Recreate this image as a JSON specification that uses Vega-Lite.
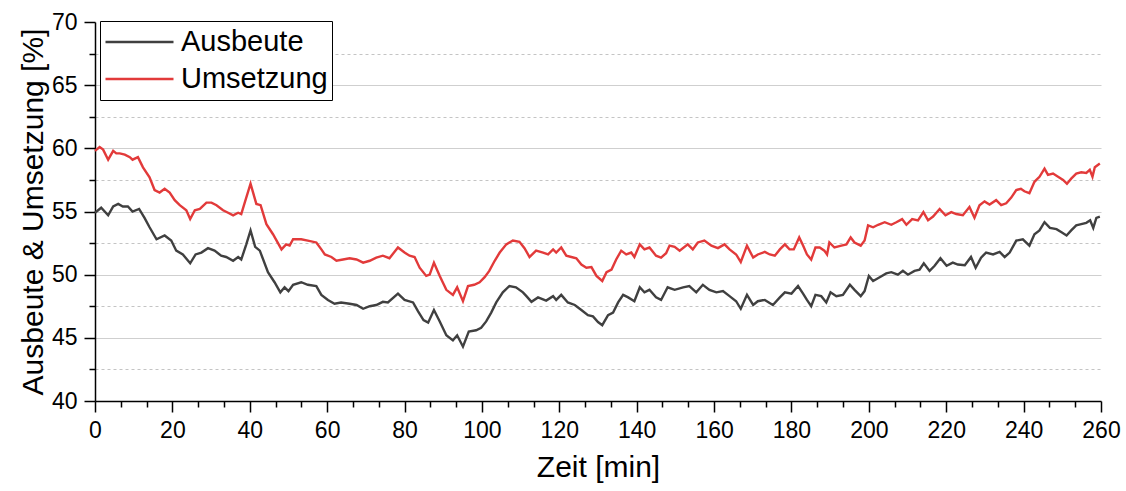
{
  "$schema": "https://vega.github.io/schema/vega-lite/v6.json",
  "width": 1006,
  "height": 379,
  "autosize": {"type": "none"},
  "padding": {"left": 95, "top": 22, "right": 25, "bottom": 90},
  "background": "white",
  "config": {
    "font": "Liberation Sans",
    "view": {"stroke": null},
    "axis": {
      "labelFont": "Liberation Sans",
      "titleFont": "Liberation Sans",
      "labelColor": "black",
      "titleColor": "black",
      "tickColor": "black",
      "domainColor": "black",
      "titleFontWeight": "normal"
    }
  },
  "data": {
    "values": [
      {"t":0,"v":54.9,"s":"Ausbeute"},{"t":1.6,"v":55.3,"s":"Ausbeute"},{"t":3.4,"v":54.7,"s":"Ausbeute"},{"t":4.7,"v":55.4,"s":"Ausbeute"},{"t":6,"v":55.6,"s":"Ausbeute"},{"t":7.2,"v":55.4,"s":"Ausbeute"},{"t":8.5,"v":55.4,"s":"Ausbeute"},{"t":9.7,"v":55.0,"s":"Ausbeute"},{"t":11.4,"v":55.2,"s":"Ausbeute"},{"t":12.8,"v":54.5,"s":"Ausbeute"},{"t":14.1,"v":53.75,"s":"Ausbeute"},{"t":15.9,"v":52.8,"s":"Ausbeute"},{"t":18,"v":53.1,"s":"Ausbeute"},{"t":19.7,"v":52.7,"s":"Ausbeute"},{"t":21,"v":51.9,"s":"Ausbeute"},{"t":22.7,"v":51.6,"s":"Ausbeute"},{"t":24.6,"v":50.9,"s":"Ausbeute"},{"t":26,"v":51.6,"s":"Ausbeute"},{"t":27.5,"v":51.75,"s":"Ausbeute"},{"t":29.2,"v":52.1,"s":"Ausbeute"},{"t":30.9,"v":51.9,"s":"Ausbeute"},{"t":32.6,"v":51.5,"s":"Ausbeute"},{"t":33.9,"v":51.4,"s":"Ausbeute"},{"t":35.7,"v":51.1,"s":"Ausbeute"},{"t":37,"v":51.4,"s":"Ausbeute"},{"t":37.8,"v":51.2,"s":"Ausbeute"},{"t":39.1,"v":52.4,"s":"Ausbeute"},{"t":40.2,"v":53.5,"s":"Ausbeute"},{"t":41.4,"v":52.2,"s":"Ausbeute"},{"t":42.6,"v":51.9,"s":"Ausbeute"},{"t":44.7,"v":50.2,"s":"Ausbeute"},{"t":46.4,"v":49.4,"s":"Ausbeute"},{"t":47.9,"v":48.6,"s":"Ausbeute"},{"t":49,"v":49.0,"s":"Ausbeute"},{"t":50,"v":48.7,"s":"Ausbeute"},{"t":51.2,"v":49.2,"s":"Ausbeute"},{"t":53.3,"v":49.4,"s":"Ausbeute"},{"t":55,"v":49.2,"s":"Ausbeute"},{"t":57.2,"v":49.1,"s":"Ausbeute"},{"t":58.5,"v":48.4,"s":"Ausbeute"},{"t":60.2,"v":48.0,"s":"Ausbeute"},{"t":61.9,"v":47.7,"s":"Ausbeute"},{"t":63.6,"v":47.8,"s":"Ausbeute"},{"t":65.8,"v":47.7,"s":"Ausbeute"},{"t":67.6,"v":47.6,"s":"Ausbeute"},{"t":69.3,"v":47.3,"s":"Ausbeute"},{"t":71,"v":47.5,"s":"Ausbeute"},{"t":72.7,"v":47.6,"s":"Ausbeute"},{"t":74.4,"v":47.85,"s":"Ausbeute"},{"t":75.7,"v":47.8,"s":"Ausbeute"},{"t":78.3,"v":48.5,"s":"Ausbeute"},{"t":80,"v":48.0,"s":"Ausbeute"},{"t":82.2,"v":47.8,"s":"Ausbeute"},{"t":83.5,"v":47.1,"s":"Ausbeute"},{"t":84.9,"v":46.4,"s":"Ausbeute"},{"t":86.1,"v":46.2,"s":"Ausbeute"},{"t":87.6,"v":47.2,"s":"Ausbeute"},{"t":89.1,"v":46.3,"s":"Ausbeute"},{"t":90.8,"v":45.2,"s":"Ausbeute"},{"t":92.5,"v":44.8,"s":"Ausbeute"},{"t":93.6,"v":45.2,"s":"Ausbeute"},{"t":95.1,"v":44.3,"s":"Ausbeute"},{"t":96.6,"v":45.5,"s":"Ausbeute"},{"t":98.5,"v":45.6,"s":"Ausbeute"},{"t":99.8,"v":45.8,"s":"Ausbeute"},{"t":101.1,"v":46.3,"s":"Ausbeute"},{"t":102.4,"v":47.0,"s":"Ausbeute"},{"t":103.7,"v":47.8,"s":"Ausbeute"},{"t":105.4,"v":48.6,"s":"Ausbeute"},{"t":107.1,"v":49.1,"s":"Ausbeute"},{"t":108.8,"v":49.0,"s":"Ausbeute"},{"t":110.6,"v":48.6,"s":"Ausbeute"},{"t":111.5,"v":48.3,"s":"Ausbeute"},{"t":112.8,"v":47.85,"s":"Ausbeute"},{"t":114.5,"v":48.2,"s":"Ausbeute"},{"t":116.6,"v":47.95,"s":"Ausbeute"},{"t":118.4,"v":48.3,"s":"Ausbeute"},{"t":119.2,"v":48.0,"s":"Ausbeute"},{"t":120.5,"v":48.4,"s":"Ausbeute"},{"t":122.2,"v":47.8,"s":"Ausbeute"},{"t":124,"v":47.6,"s":"Ausbeute"},{"t":125.7,"v":47.2,"s":"Ausbeute"},{"t":127.4,"v":46.8,"s":"Ausbeute"},{"t":128.7,"v":46.7,"s":"Ausbeute"},{"t":130,"v":46.25,"s":"Ausbeute"},{"t":131.1,"v":46.0,"s":"Ausbeute"},{"t":132.6,"v":46.8,"s":"Ausbeute"},{"t":133.9,"v":47.0,"s":"Ausbeute"},{"t":135.2,"v":47.8,"s":"Ausbeute"},{"t":136.5,"v":48.4,"s":"Ausbeute"},{"t":137.8,"v":48.2,"s":"Ausbeute"},{"t":139.4,"v":47.9,"s":"Ausbeute"},{"t":140.8,"v":49.0,"s":"Ausbeute"},{"t":142,"v":48.6,"s":"Ausbeute"},{"t":143.3,"v":48.8,"s":"Ausbeute"},{"t":145,"v":48.2,"s":"Ausbeute"},{"t":146.3,"v":48.0,"s":"Ausbeute"},{"t":148,"v":49.0,"s":"Ausbeute"},{"t":149.8,"v":48.8,"s":"Ausbeute"},{"t":152,"v":49.0,"s":"Ausbeute"},{"t":153.6,"v":49.1,"s":"Ausbeute"},{"t":155.4,"v":48.6,"s":"Ausbeute"},{"t":157.1,"v":49.2,"s":"Ausbeute"},{"t":158.8,"v":48.8,"s":"Ausbeute"},{"t":160.6,"v":48.6,"s":"Ausbeute"},{"t":162.3,"v":48.7,"s":"Ausbeute"},{"t":164,"v":48.3,"s":"Ausbeute"},{"t":165.7,"v":47.9,"s":"Ausbeute"},{"t":166.9,"v":47.3,"s":"Ausbeute"},{"t":168.5,"v":48.4,"s":"Ausbeute"},{"t":170.1,"v":47.6,"s":"Ausbeute"},{"t":171.3,"v":47.9,"s":"Ausbeute"},{"t":173.1,"v":48.0,"s":"Ausbeute"},{"t":175.2,"v":47.6,"s":"Ausbeute"},{"t":177,"v":48.2,"s":"Ausbeute"},{"t":178.3,"v":48.6,"s":"Ausbeute"},{"t":180,"v":48.5,"s":"Ausbeute"},{"t":181.7,"v":49.1,"s":"Ausbeute"},{"t":183,"v":48.5,"s":"Ausbeute"},{"t":184,"v":48.0,"s":"Ausbeute"},{"t":185.1,"v":47.5,"s":"Ausbeute"},{"t":186.2,"v":48.4,"s":"Ausbeute"},{"t":187.7,"v":48.3,"s":"Ausbeute"},{"t":189,"v":47.8,"s":"Ausbeute"},{"t":190.1,"v":48.6,"s":"Ausbeute"},{"t":191.6,"v":48.3,"s":"Ausbeute"},{"t":193.3,"v":48.4,"s":"Ausbeute"},{"t":195.1,"v":49.2,"s":"Ausbeute"},{"t":196.3,"v":48.8,"s":"Ausbeute"},{"t":197.9,"v":48.3,"s":"Ausbeute"},{"t":198.9,"v":48.7,"s":"Ausbeute"},{"t":200,"v":49.9,"s":"Ausbeute"},{"t":201.1,"v":49.5,"s":"Ausbeute"},{"t":202.8,"v":49.8,"s":"Ausbeute"},{"t":204.5,"v":50.1,"s":"Ausbeute"},{"t":205.8,"v":50.2,"s":"Ausbeute"},{"t":207.5,"v":50.0,"s":"Ausbeute"},{"t":208.8,"v":50.3,"s":"Ausbeute"},{"t":210.1,"v":50.0,"s":"Ausbeute"},{"t":211.8,"v":50.3,"s":"Ausbeute"},{"t":213.1,"v":50.4,"s":"Ausbeute"},{"t":214.2,"v":50.9,"s":"Ausbeute"},{"t":215.7,"v":50.3,"s":"Ausbeute"},{"t":217,"v":50.7,"s":"Ausbeute"},{"t":218.5,"v":51.3,"s":"Ausbeute"},{"t":220.1,"v":50.7,"s":"Ausbeute"},{"t":221.7,"v":50.95,"s":"Ausbeute"},{"t":223,"v":50.8,"s":"Ausbeute"},{"t":224.8,"v":50.75,"s":"Ausbeute"},{"t":226.4,"v":51.4,"s":"Ausbeute"},{"t":227.6,"v":50.55,"s":"Ausbeute"},{"t":229,"v":51.35,"s":"Ausbeute"},{"t":230.3,"v":51.75,"s":"Ausbeute"},{"t":232.1,"v":51.6,"s":"Ausbeute"},{"t":233.8,"v":51.8,"s":"Ausbeute"},{"t":235.1,"v":51.4,"s":"Ausbeute"},{"t":236.4,"v":51.75,"s":"Ausbeute"},{"t":238.1,"v":52.7,"s":"Ausbeute"},{"t":239.8,"v":52.8,"s":"Ausbeute"},{"t":241.5,"v":52.3,"s":"Ausbeute"},{"t":242.8,"v":53.2,"s":"Ausbeute"},{"t":244.1,"v":53.5,"s":"Ausbeute"},{"t":245.4,"v":54.15,"s":"Ausbeute"},{"t":246.8,"v":53.7,"s":"Ausbeute"},{"t":248.5,"v":53.6,"s":"Ausbeute"},{"t":249.8,"v":53.35,"s":"Ausbeute"},{"t":251.1,"v":53.1,"s":"Ausbeute"},{"t":252.3,"v":53.5,"s":"Ausbeute"},{"t":253.6,"v":53.9,"s":"Ausbeute"},{"t":254.9,"v":54.0,"s":"Ausbeute"},{"t":256.2,"v":54.1,"s":"Ausbeute"},{"t":257.2,"v":54.3,"s":"Ausbeute"},{"t":258,"v":53.7,"s":"Ausbeute"},{"t":258.8,"v":54.5,"s":"Ausbeute"},{"t":259.7,"v":54.6,"s":"Ausbeute"},
      {"t":0,"v":59.8,"s":"Umsetzung"},{"t":1.2,"v":60.1,"s":"Umsetzung"},{"t":2.1,"v":59.9,"s":"Umsetzung"},{"t":3.4,"v":59.1,"s":"Umsetzung"},{"t":4.7,"v":59.8,"s":"Umsetzung"},{"t":5.5,"v":59.6,"s":"Umsetzung"},{"t":6.4,"v":59.6,"s":"Umsetzung"},{"t":7.7,"v":59.5,"s":"Umsetzung"},{"t":9,"v":59.3,"s":"Umsetzung"},{"t":9.7,"v":59.1,"s":"Umsetzung"},{"t":11.1,"v":59.3,"s":"Umsetzung"},{"t":12.4,"v":58.5,"s":"Umsetzung"},{"t":14.1,"v":57.7,"s":"Umsetzung"},{"t":15.4,"v":56.7,"s":"Umsetzung"},{"t":16.7,"v":56.5,"s":"Umsetzung"},{"t":18,"v":56.8,"s":"Umsetzung"},{"t":19.3,"v":56.5,"s":"Umsetzung"},{"t":20.6,"v":55.9,"s":"Umsetzung"},{"t":21.9,"v":55.5,"s":"Umsetzung"},{"t":23.6,"v":55.1,"s":"Umsetzung"},{"t":24.6,"v":54.4,"s":"Umsetzung"},{"t":25.8,"v":55.1,"s":"Umsetzung"},{"t":27.1,"v":55.2,"s":"Umsetzung"},{"t":28.8,"v":55.7,"s":"Umsetzung"},{"t":30.1,"v":55.7,"s":"Umsetzung"},{"t":31.4,"v":55.5,"s":"Umsetzung"},{"t":33.1,"v":55.1,"s":"Umsetzung"},{"t":34.4,"v":54.9,"s":"Umsetzung"},{"t":35.7,"v":54.7,"s":"Umsetzung"},{"t":37,"v":54.9,"s":"Umsetzung"},{"t":37.8,"v":54.8,"s":"Umsetzung"},{"t":38.7,"v":55.7,"s":"Umsetzung"},{"t":40.2,"v":57.2,"s":"Umsetzung"},{"t":41.7,"v":55.6,"s":"Umsetzung"},{"t":42.8,"v":55.5,"s":"Umsetzung"},{"t":44.3,"v":54.0,"s":"Umsetzung"},{"t":46,"v":53.2,"s":"Umsetzung"},{"t":48.2,"v":52.0,"s":"Umsetzung"},{"t":49.4,"v":52.4,"s":"Umsetzung"},{"t":50.3,"v":52.3,"s":"Umsetzung"},{"t":51.2,"v":52.8,"s":"Umsetzung"},{"t":53.3,"v":52.8,"s":"Umsetzung"},{"t":55,"v":52.7,"s":"Umsetzung"},{"t":57.2,"v":52.55,"s":"Umsetzung"},{"t":58.5,"v":52.0,"s":"Umsetzung"},{"t":59.4,"v":51.6,"s":"Umsetzung"},{"t":61.1,"v":51.4,"s":"Umsetzung"},{"t":62.4,"v":51.1,"s":"Umsetzung"},{"t":64.1,"v":51.2,"s":"Umsetzung"},{"t":65.8,"v":51.3,"s":"Umsetzung"},{"t":67.6,"v":51.2,"s":"Umsetzung"},{"t":69.3,"v":50.95,"s":"Umsetzung"},{"t":71,"v":51.1,"s":"Umsetzung"},{"t":72.7,"v":51.35,"s":"Umsetzung"},{"t":74.4,"v":51.5,"s":"Umsetzung"},{"t":76.1,"v":51.3,"s":"Umsetzung"},{"t":78.3,"v":52.15,"s":"Umsetzung"},{"t":80,"v":51.75,"s":"Umsetzung"},{"t":81.3,"v":51.5,"s":"Umsetzung"},{"t":82.6,"v":51.4,"s":"Umsetzung"},{"t":83.9,"v":50.55,"s":"Umsetzung"},{"t":85.6,"v":49.9,"s":"Umsetzung"},{"t":86.5,"v":50.0,"s":"Umsetzung"},{"t":87.6,"v":50.95,"s":"Umsetzung"},{"t":89.1,"v":49.9,"s":"Umsetzung"},{"t":90.8,"v":48.8,"s":"Umsetzung"},{"t":92.5,"v":48.4,"s":"Umsetzung"},{"t":93.6,"v":49.0,"s":"Umsetzung"},{"t":95.1,"v":47.9,"s":"Umsetzung"},{"t":96.4,"v":49.1,"s":"Umsetzung"},{"t":98,"v":49.2,"s":"Umsetzung"},{"t":99.4,"v":49.4,"s":"Umsetzung"},{"t":100.7,"v":49.8,"s":"Umsetzung"},{"t":101.9,"v":50.3,"s":"Umsetzung"},{"t":103.3,"v":51.1,"s":"Umsetzung"},{"t":104.6,"v":51.75,"s":"Umsetzung"},{"t":106.3,"v":52.4,"s":"Umsetzung"},{"t":108,"v":52.7,"s":"Umsetzung"},{"t":109.7,"v":52.6,"s":"Umsetzung"},{"t":111,"v":52.1,"s":"Umsetzung"},{"t":112.3,"v":51.4,"s":"Umsetzung"},{"t":114,"v":51.9,"s":"Umsetzung"},{"t":115.8,"v":51.75,"s":"Umsetzung"},{"t":117.1,"v":51.6,"s":"Umsetzung"},{"t":118.4,"v":52.0,"s":"Umsetzung"},{"t":119.2,"v":51.75,"s":"Umsetzung"},{"t":120.5,"v":52.15,"s":"Umsetzung"},{"t":121.8,"v":51.5,"s":"Umsetzung"},{"t":123.1,"v":51.4,"s":"Umsetzung"},{"t":124.4,"v":51.3,"s":"Umsetzung"},{"t":125.7,"v":50.8,"s":"Umsetzung"},{"t":127,"v":50.55,"s":"Umsetzung"},{"t":128.3,"v":50.6,"s":"Umsetzung"},{"t":129.6,"v":49.9,"s":"Umsetzung"},{"t":131.1,"v":49.5,"s":"Umsetzung"},{"t":132.2,"v":50.2,"s":"Umsetzung"},{"t":133.5,"v":50.4,"s":"Umsetzung"},{"t":134.7,"v":51.2,"s":"Umsetzung"},{"t":136,"v":51.9,"s":"Umsetzung"},{"t":137.3,"v":51.6,"s":"Umsetzung"},{"t":138.6,"v":51.75,"s":"Umsetzung"},{"t":139.4,"v":51.4,"s":"Umsetzung"},{"t":140.8,"v":52.4,"s":"Umsetzung"},{"t":142,"v":52.0,"s":"Umsetzung"},{"t":143.3,"v":52.15,"s":"Umsetzung"},{"t":145,"v":51.5,"s":"Umsetzung"},{"t":146.3,"v":51.35,"s":"Umsetzung"},{"t":147.6,"v":51.7,"s":"Umsetzung"},{"t":148.5,"v":52.3,"s":"Umsetzung"},{"t":149.8,"v":52.2,"s":"Umsetzung"},{"t":151.1,"v":51.9,"s":"Umsetzung"},{"t":153.2,"v":52.4,"s":"Umsetzung"},{"t":154.5,"v":52.0,"s":"Umsetzung"},{"t":155.8,"v":52.55,"s":"Umsetzung"},{"t":157.5,"v":52.7,"s":"Umsetzung"},{"t":159.3,"v":52.3,"s":"Umsetzung"},{"t":161,"v":52.1,"s":"Umsetzung"},{"t":162.7,"v":52.4,"s":"Umsetzung"},{"t":164,"v":52.0,"s":"Umsetzung"},{"t":165.7,"v":51.6,"s":"Umsetzung"},{"t":166.9,"v":51.0,"s":"Umsetzung"},{"t":168.5,"v":52.3,"s":"Umsetzung"},{"t":170.1,"v":51.35,"s":"Umsetzung"},{"t":171.3,"v":51.6,"s":"Umsetzung"},{"t":173.1,"v":51.8,"s":"Umsetzung"},{"t":174.4,"v":51.6,"s":"Umsetzung"},{"t":175.7,"v":51.5,"s":"Umsetzung"},{"t":177,"v":52.0,"s":"Umsetzung"},{"t":178.3,"v":52.4,"s":"Umsetzung"},{"t":179.5,"v":52.0,"s":"Umsetzung"},{"t":180.6,"v":52.0,"s":"Umsetzung"},{"t":182,"v":52.95,"s":"Umsetzung"},{"t":183,"v":52.3,"s":"Umsetzung"},{"t":184,"v":51.6,"s":"Umsetzung"},{"t":185.1,"v":51.2,"s":"Umsetzung"},{"t":186.2,"v":52.15,"s":"Umsetzung"},{"t":187.3,"v":52.15,"s":"Umsetzung"},{"t":188.5,"v":51.9,"s":"Umsetzung"},{"t":189.2,"v":51.6,"s":"Umsetzung"},{"t":189.8,"v":52.55,"s":"Umsetzung"},{"t":191.1,"v":52.15,"s":"Umsetzung"},{"t":192.9,"v":52.3,"s":"Umsetzung"},{"t":194.2,"v":52.4,"s":"Umsetzung"},{"t":195.3,"v":52.95,"s":"Umsetzung"},{"t":196.3,"v":52.55,"s":"Umsetzung"},{"t":197.9,"v":52.3,"s":"Umsetzung"},{"t":198.9,"v":52.7,"s":"Umsetzung"},{"t":199.8,"v":53.9,"s":"Umsetzung"},{"t":201.1,"v":53.75,"s":"Umsetzung"},{"t":202.4,"v":53.95,"s":"Umsetzung"},{"t":204.1,"v":54.15,"s":"Umsetzung"},{"t":205.8,"v":53.95,"s":"Umsetzung"},{"t":207.1,"v":54.15,"s":"Umsetzung"},{"t":208.6,"v":54.4,"s":"Umsetzung"},{"t":209.7,"v":53.95,"s":"Umsetzung"},{"t":211.2,"v":54.4,"s":"Umsetzung"},{"t":212.7,"v":54.3,"s":"Umsetzung"},{"t":214.1,"v":54.95,"s":"Umsetzung"},{"t":215.3,"v":54.3,"s":"Umsetzung"},{"t":216.6,"v":54.6,"s":"Umsetzung"},{"t":218.3,"v":55.2,"s":"Umsetzung"},{"t":219.8,"v":54.7,"s":"Umsetzung"},{"t":221.3,"v":54.95,"s":"Umsetzung"},{"t":222.6,"v":54.8,"s":"Umsetzung"},{"t":224.3,"v":54.7,"s":"Umsetzung"},{"t":226,"v":55.35,"s":"Umsetzung"},{"t":227.3,"v":54.5,"s":"Umsetzung"},{"t":228.6,"v":55.5,"s":"Umsetzung"},{"t":229.9,"v":55.8,"s":"Umsetzung"},{"t":231.2,"v":55.55,"s":"Umsetzung"},{"t":232.9,"v":55.9,"s":"Umsetzung"},{"t":234.2,"v":55.5,"s":"Umsetzung"},{"t":235.5,"v":55.65,"s":"Umsetzung"},{"t":236.8,"v":56.1,"s":"Umsetzung"},{"t":238.1,"v":56.7,"s":"Umsetzung"},{"t":239.3,"v":56.8,"s":"Umsetzung"},{"t":240.2,"v":56.6,"s":"Umsetzung"},{"t":241.5,"v":56.45,"s":"Umsetzung"},{"t":242.8,"v":57.35,"s":"Umsetzung"},{"t":244.1,"v":57.75,"s":"Umsetzung"},{"t":245.4,"v":58.4,"s":"Umsetzung"},{"t":246.3,"v":57.9,"s":"Umsetzung"},{"t":247.6,"v":58.0,"s":"Umsetzung"},{"t":248.9,"v":57.75,"s":"Umsetzung"},{"t":250.2,"v":57.5,"s":"Umsetzung"},{"t":251.2,"v":57.2,"s":"Umsetzung"},{"t":252.3,"v":57.6,"s":"Umsetzung"},{"t":253.6,"v":58.0,"s":"Umsetzung"},{"t":254.9,"v":58.1,"s":"Umsetzung"},{"t":256.2,"v":58.05,"s":"Umsetzung"},{"t":257.1,"v":58.3,"s":"Umsetzung"},{"t":257.8,"v":57.75,"s":"Umsetzung"},{"t":258.4,"v":58.5,"s":"Umsetzung"},{"t":259.7,"v":58.8,"s":"Umsetzung"}
    ]
  },
  "layer": [
    {
      "mark": {"type": "line", "opacity": 0},
      "encoding": {
        "x": {
          "field": "t", "type": "quantitative",
          "scale": {"domain": [0, 260], "nice": false},
          "axis": {
            "orient": "bottom",
            "values": [6.667, 13.333, 26.667, 33.333, 46.667, 53.333, 66.667, 73.333, 86.667, 93.333, 106.667, 113.333, 126.667, 133.333, 146.667, 153.333, 166.667, 173.333, 186.667, 193.333, 206.667, 213.333, 226.667, 233.333, 246.667, 253.333],
            "labels": false, "domain": false, "grid": false,
            "tickSize": 6, "tickWidth": 1.5, "title": null
          }
        },
        "y": {
          "field": "v", "type": "quantitative",
          "scale": {"domain": [40, 70], "nice": false, "zero": false},
          "axis": {
            "orient": "left",
            "values": [42.5, 47.5, 52.5, 57.5, 62.5, 67.5],
            "labels": false, "domain": false, "grid": true,
            "gridDash": [3, 3], "gridColor": "#c4c4c4", "gridWidth": 1,
            "tickSize": 6, "tickWidth": 1.5, "title": null
          }
        },
        "detail": {"field": "s", "type": "nominal"}
      }
    },
    {
      "mark": {"type": "line", "strokeWidth": 2.4},
      "encoding": {
        "x": {
          "field": "t", "type": "quantitative",
          "axis": {
            "orient": "bottom",
            "values": [0, 20, 40, 60, 80, 100, 120, 140, 160, 180, 200, 220, 240, 260],
            "grid": false, "domainWidth": 1.5, "tickWidth": 1.5, "tickSize": 11,
            "labelFontSize": 23, "labelPadding": 7, "labelFlush": false,
            "title": "Zeit [min]", "titleFontSize": 30, "titlePadding": 10
          }
        },
        "y": {
          "field": "v", "type": "quantitative",
          "axis": {
            "orient": "left",
            "values": [40, 45, 50, 55, 60, 65, 70],
            "grid": true, "gridColor": "#cfcfcf", "gridWidth": 1.2,
            "gridOpacity": {"condition": {"test": "datum.value <= 40 || datum.value >= 70", "value": 0}, "value": 1},
            "domainWidth": 1.5, "tickWidth": 1.5, "tickSize": 11,
            "labelFontSize": 23, "labelPadding": 7, "labelFlush": false,
            "title": "Ausbeute & Umsetzung [%]", "titleFontSize": 30, "titlePadding": 3
          }
        },
        "color": {
          "field": "s", "type": "nominal",
          "scale": {"domain": ["Ausbeute", "Umsetzung"], "range": ["#404040", "#e23a3a"]},
          "legend": {
            "title": null, "orient": "none", "legendX": 5, "legendY": -1,
            "symbolType": "stroke", "symbolSize": 4624, "symbolStrokeWidth": 2.5,
            "clipHeight": 34, "rowPadding": 3,
            "labelFontSize": 29, "labelFont": "Liberation Sans", "labelColor": "black",
            "labelOffset": 6, "labelLimit": 0,
            "strokeColor": "black", "fillColor": "white", "padding": 4, "cornerRadius": 0
          }
        }
      }
    }
  ],
  "resolve": {"axis": {"x": "independent", "y": "independent"}}
}
